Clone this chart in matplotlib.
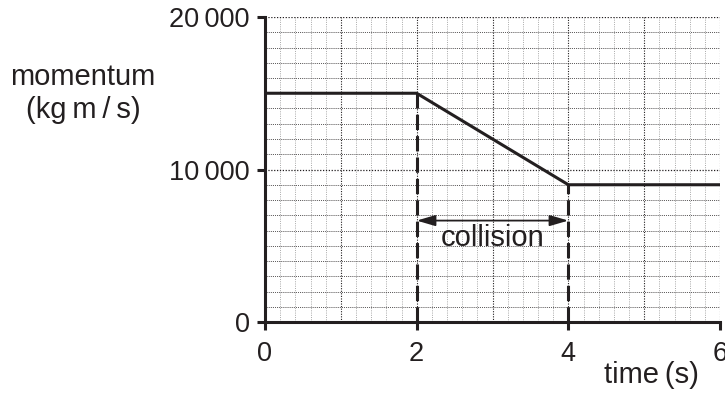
import numpy as np
import matplotlib.pyplot as plt

# momentum against time for the collision
time_s = [0, 2, 4, 6]
momentum = [15000, 15000, 9000, 9000]
collision_start = 2
collision_end = 4
x_ticks = [0, 2, 4, 6]
y_ticks = [0, 10000, 20000]
y_tick_labels = ["0", "10\u2009000", "20\u2009000"]

ink = "#231f20"
plt.rcParams['font.family'] = ['Liberation Sans', 'DejaVu Sans']

fig = plt.figure(figsize=(7.25, 3.94), dpi=100)
ax = fig.add_axes([265 / 725, 1 - 322 / 394, 455 / 725, 305 / 394])
ax.set_xlim(0, 6)
ax.set_ylim(0, 20000)

# graph paper: light verticals every 0.2 s, darker every 1 s, horizontals every 1000
for xv in np.arange(0.2, 6.01, 0.2):
    major = abs(xv - round(xv)) < 1e-6
    ax.axvline(xv, color=ink if major else "#a8a8a8", lw=0.8 if major else 0.7,
               ls=(0, (1, 1.3)), zorder=0)
for yv in range(1000, 20001, 1000):
    ax.axhline(yv, color=ink, lw=0.9 if yv % 10000 == 0 else 0.6,
               ls=(0, (1, 1.3)), zorder=0)

ax.plot(time_s, momentum, color=ink, lw=2.2, solid_joinstyle="miter", zorder=3)

# dashed markers for the collision period
ax.plot([collision_start, collision_start], [0, momentum[1]], color=ink, lw=2.2,
        ls=(0, (5, 2)), zorder=3)
ax.plot([collision_end, collision_end], [0, momentum[2]], color=ink, lw=2.2,
        ls=(0, (5, 2)), zorder=3)

ax.annotate("", xy=(collision_start, 6650), xytext=(collision_end, 6650),
            arrowprops=dict(arrowstyle="<|-|>,head_length=0.75,head_width=0.22",
                            mutation_scale=15, lw=1.3, color=ink,
                            shrinkA=0, shrinkB=0), zorder=4)
ax.text(3.0, 5000, "collision", ha="center", va="baseline", color=ink, fontsize=21)

for side in ["top", "right"]:
    ax.spines[side].set_visible(False)
for side in ["left", "bottom"]:
    ax.spines[side].set_linewidth(2.2)
    ax.spines[side].set_color(ink)
    ax.spines[side].set_zorder(5)

ax.set_xticks(x_ticks)
ax.set_xticklabels([str(v) for v in x_ticks])
ax.set_yticks(y_ticks)
ax.set_yticklabels(y_tick_labels)
ax.tick_params(direction="out", length=6, width=2.2, color=ink, labelcolor=ink,
               labelsize=19.5, pad=5)
ax.tick_params(axis="x", pad=8)

fig.text(83 / 725, 1 - 85 / 394, "momentum", ha="center", va="baseline",
         color=ink, fontsize=21)
fig.text(83 / 725, 1 - 118 / 394, "(kg\u2009m\u2009/\u2009s)", ha="center",
         va="baseline", color=ink, fontsize=21)
fig.text(651 / 725, 1 - 383 / 394, "time\u2009(s)", ha="center", va="baseline",
         color=ink, fontsize=21)

fig.savefig("out.png", dpi=100)
